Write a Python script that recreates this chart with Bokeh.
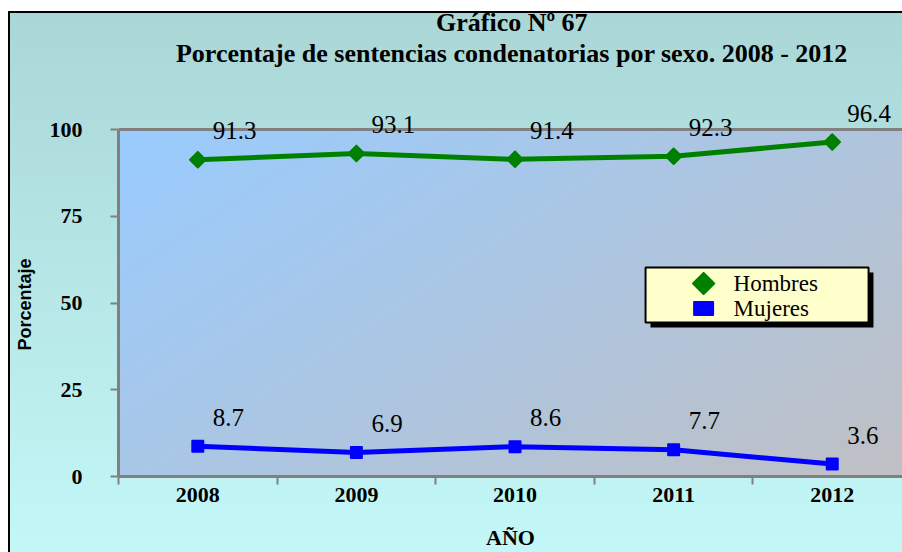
import numpy as np
from bokeh.plotting import figure
from bokeh.models import ColumnDataSource, FixedTicker, LabelSet, Label, Range1d, Span, Title
from bokeh.core.properties import value
from bokeh.embed import file_html
from bokeh.resources import INLINE

# ---------------- data ----------------
years = ["2008", "2009", "2010", "2011", "2012"]
hombres = [91.3, 93.1, 91.4, 92.3, 96.4]
mujeres = [8.7, 6.9, 8.6, 7.7, 3.6]
y_ticks = [0, 25, 50, 75, 100]
series_names = ["Hombres", "Mujeres"]
title_line1 = "Gráfico Nº 67"
title_line2 = "Porcentaje de sentencias condenatorias por sexo. 2008 - 2012"
x_title = "AÑO"
y_title = "Porcentaje"

# category centres on a numeric axis (one unit per category)
xs = [i + 0.5 for i in range(len(years))]
bounds = list(range(len(years) + 1))

SERIF = "Liberation Serif"
GRAY = "#808080"
GREEN = "#008000"
BLUE = "#0000FF"

p = figure(width=902, height=552, output_backend="svg", toolbar_location=None, title=None,
           x_range=Range1d(0, 4.943), y_range=Range1d(0, 137.18),
           min_border_left=118, min_border_right=0, min_border_top=0, min_border_bottom=76)
p.border_fill_color = None
p.background_fill_color = None
p.outline_line_color = None
p.styles = {
    "background": "linear-gradient(#000,#000) 8px 11px / 2px 100% no-repeat, "
                  "linear-gradient(#000,#000) 8px 11px / 100% 2px no-repeat, "
                  "linear-gradient(#AAD6D6,#C4F8F8) 10px 13px / 100% 100% no-repeat #ffffff"
}

# plot-area diagonal gradient (0..100 on y)
nx, ny = 240, 120
u = (np.arange(nx) + 0.5) / nx
v = 1 - (np.arange(ny) + 0.5) / ny
t = 0.6 * u[None, :] + 0.4 * v[:, None]
A = np.array([153, 204, 255], dtype=float)
B = np.array([192, 192, 196], dtype=float)
rgb = A + (B - A) * t[..., None]
img = np.empty((ny, nx), dtype=np.uint32)
view = img.view(dtype=np.uint8).reshape((ny, nx, 4))
view[..., 0:3] = rgb.astype(np.uint8)
view[..., 3] = 255
p.image_rgba(image=[img], x=0, y=0, dw=5, dh=100)

# top border of plot area
p.add_layout(Span(location=100, dimension="width", line_color=GRAY, line_width=3))

# series
p.line(xs, hombres, line_color=GREEN, line_width=5)
p.scatter(xs, hombres, marker="square", angle=np.pi / 4, size=11, fill_color=GREEN,
          line_color=GREEN, line_width=2, line_join="round")
p.line(xs, mujeres, line_color=BLUE, line_width=5)
p.scatter(xs, mujeres, marker="square", size=11, fill_color=BLUE,
          line_color=BLUE, line_width=2, line_join="round")

for vals in (hombres, mujeres):
    src = ColumnDataSource(dict(x=xs, y=vals, t=[f"{val:.1f}" for val in vals]))
    p.add_layout(LabelSet(x="x", y="y", text="t", source=src, x_offset=15, y_offset=29,
                          text_font=value(SERIF), text_font_size=value("25px"),
                          text_baseline=value("middle"), text_align=value("left"),
                          text_color=value("black")))

# legend (drawn manually: shadow, box, markers, labels)
p.quad(left=[3.354], right=[4.760], top=[58.79], bottom=[42.94], fill_color="black", line_color=None)
p.quad(left=[3.323], right=[4.729], top=[60.23], bottom=[44.38], fill_color="#FFFFCC",
       line_color="black", line_width=2)
p.scatter([3.689], [55.62], marker="square", angle=np.pi / 4, size=15, fill_color=GREEN,
          line_color=GREEN, line_width=2, line_join="round")
p.rect(x=[3.689], y=[48.41], width=19, height=13, width_units="screen", height_units="screen",
       fill_color=BLUE, line_color=BLUE, line_width=2, line_join="round")
p.text(x=[3.878, 3.878], y=[55.62, 48.41], text=series_names, text_font=value(SERIF),
       text_font_size="23px", text_baseline="middle", text_align="left", text_color="black")

# titles, placed above the plot area
for txt, yy in ((title_line1, 130.84), (title_line2, 121.9)):
    p.add_layout(Label(x=2.48, y=yy, text=txt, text_font=SERIF, text_font_size="26px",
                       text_font_style="bold", text_align="center", text_baseline="middle",
                       text_color="black"))

# axes
xa = p.xaxis[0]
xa.ticker = FixedTicker(ticks=xs, minor_ticks=bounds)
xa.major_label_overrides = {x: y for x, y in zip(xs, years)}
xa.major_tick_out = 0
xa.major_tick_in = 0
xa.minor_tick_out = 8
xa.minor_tick_in = 0
xa.minor_tick_line_color = GRAY
xa.minor_tick_line_width = 2
xa.axis_line_color = GRAY
xa.axis_line_width = 3
xa.major_label_text_font = SERIF
xa.major_label_text_font_style = "bold"
xa.major_label_text_font_size = "22px"
xa.major_label_text_color = "black"
xa.major_label_standoff = 3
xa.axis_label = x_title
xa.axis_label_text_font = SERIF
xa.axis_label_text_font_style = "bold"
xa.axis_label_text_font_size = "22px"
xa.axis_label_text_color = "black"
xa.axis_label_standoff = 20

ya = p.yaxis[0]
ya.bounds = (0, 100)
ya.ticker = FixedTicker(ticks=y_ticks)
ya.major_tick_out = 8
ya.major_tick_in = 0
ya.minor_tick_out = 0
ya.minor_tick_in = 0
ya.major_tick_line_color = GRAY
ya.major_tick_line_width = 2
ya.axis_line_color = GRAY
ya.axis_line_width = 3
ya.major_label_text_font = SERIF
ya.major_label_text_font_style = "bold"
ya.major_label_text_font_size = "22px"
ya.major_label_text_color = "black"
ya.major_label_standoff = 28

# y-axis title as a side title, centred on the 0..100 span
p.add_layout(Title(text=y_title, align="left", vertical_align="top", offset=126, standoff=20,
                   text_font="Liberation Sans", text_font_style="bold", text_font_size="18px",
                   text_color="black"), "left")

p.xgrid.visible = False
p.ygrid.ticker = FixedTicker(ticks=[25, 50, 75])
p.ygrid.grid_line_color = "black"
p.ygrid.grid_line_width = 2

open("out.html", "w").write(file_html(p, INLINE))
